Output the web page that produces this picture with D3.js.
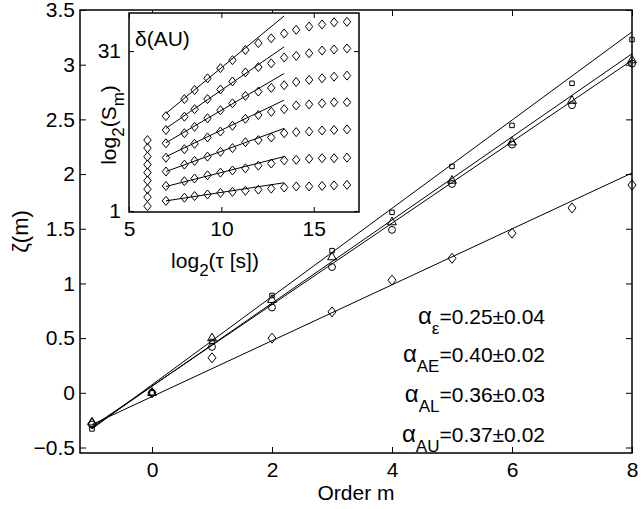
<!DOCTYPE html>
<html>
<head>
<meta charset="utf-8">
<script src="https://cdn.jsdelivr.net/npm/d3@7"></script>
<style>
  body { margin: 0; background: #fff; }
  text { font-family: "Liberation Sans", Arial, Helvetica, sans-serif; fill: #000; }
</style>
</head>
<body>
<svg id="chart" width="641" height="509"></svg>
<script>
// ---- main panel data ----
const orders = [-1, 0, 1, 2, 3, 4, 5, 6, 7, 8];
const zetaSquare   = [-0.33, 0, 0.47, 0.89, 1.30, 1.65, 2.07, 2.445, 2.83, 3.23];
const zetaTriangle = [-0.27, 0, 0.50, 0.85, 1.24, 1.56, 1.94, 2.29, 2.67, 3.04];
const zetaCircle   = [-0.29, 0, 0.42, 0.78, 1.15, 1.49, 1.91, 2.27, 2.63, 3.01];
const zetaDiamond  = [-0.28, 0, 0.32, 0.50, 0.74, 1.03, 1.23, 1.46, 1.69, 1.90];
// fitted lines, value at m = -1 and m = 8
const fitOrders   = [-1, 8];
const fitSquare   = [-0.33, 3.30];
const fitTriangle = [-0.32, 3.10];
const fitCircle   = [-0.31, 3.04];
const fitDiamond  = [-0.29, 2.01];
const xTicks = [0, 2, 4, 6, 8];
const yTicks = [-0.5, 0, 0.5, 1, 1.5, 2, 2.5, 3, 3.5];

// ---- inset data: log2(S_m) vs log2(tau) for delta(AU) ----
const insetTau = [7, 8, 8.55, 9.25, 9.95, 10.6, 11.3, 12.0, 12.7, 13.4, 14.05, 14.75, 15.45, 16.1, 16.8];
const insetRows = [
  [18.8, 22.0, 23.7, 25.9, 27.8, 29.3, 31.2, 32.5, 33.4, 34.3, 35.0, 35.6, 36.0, 36.4, 36.5],
  [16.2, 18.7, 20.1, 22.0, 23.8, 25.3, 27.0, 28.0, 28.7, 29.8, 30.1, 30.6, 31.1, 31.3, 31.5],
  [13.7, 15.6, 16.8, 18.4, 19.9, 21.2, 22.6, 23.4, 24.1, 24.6, 25.2, 25.6, 25.9, 26.2, 26.4],
  [11.0, 12.6, 13.6, 14.8, 15.9, 17.0, 18.3, 19.0, 19.6, 20.1, 20.8, 21.0, 21.2, 21.4, 21.4],
  [8.4, 9.7, 10.4, 11.2, 12.1, 12.8, 13.9, 14.3, 14.8, 15.6, 15.8, 15.9, 16.1, 16.2, 16.3],
  [5.7, 6.6, 7.1, 7.7, 8.2, 8.6, 9.0, 9.5, 9.9, 10.5, 10.6, 10.8, 10.9, 10.9, 11.0],
  [2.9, 3.5, 3.8, 4.1, 4.4, 4.6, 4.8, 5.0, 5.2, 5.4, 5.6, 5.6, 5.7, 5.8, 5.9]
];
const insetColumnTau = 6;
const insetColumn = [14.3, 12.8, 11.2, 9.7, 8.2, 6.7, 5.1, 3.6, 1.9];
// fit lines per row, from tau 7 to 13.4
const insetFitTau = [7, 13.4];
const insetFitStart = [19.3, 16.5, 13.8, 11.2, 8.4, 5.6, 2.9];
const insetFitEnd   = [37.6, 31.8, 26.8, 21.8, 16.5, 11.2, 6.3];
const insetXTicks = [5, 10, 15];
const insetYTicks = [1, 31];

// annotation text
const alphaLabels = [
  { sub: "ε",  value: "=0.25±0.04" },
  { sub: "AE", value: "=0.40±0.02" },
  { sub: "AL", value: "=0.36±0.03" },
  { sub: "AU", value: "=0.37±0.02" }
];

const FS = 21, SUB = 17;
const svg = d3.select("#chart");

// ------------------------------------------------------------
// main axes
// ------------------------------------------------------------
const plot = { left: 80, right: 632, top: 10, bottom: 453 };
const x = d3.scaleLinear().domain([-1.2, 8]).range([plot.left, plot.right]);
const y = d3.scaleLinear().domain([-0.55, 3.5]).range([plot.bottom, plot.top]);

const fmt = d => d3.format("")(d).replace("-", "\u2212");

svg.append("g")
  .attr("transform", `translate(0,${plot.bottom})`)
  .call(d3.axisBottom(x).tickValues(xTicks).tickSize(-6).tickPadding(9).tickFormat(fmt))
  .call(g => g.select(".domain").remove())
  .attr("font-size", FS);

svg.append("g")
  .attr("transform", `translate(0,${plot.top})`)
  .call(d3.axisTop(x).tickValues(xTicks).tickSize(-6).tickFormat(""))
  .call(g => g.select(".domain").remove());

svg.append("g")
  .attr("transform", `translate(${plot.left},0)`)
  .call(d3.axisLeft(y).tickValues(yTicks).tickSize(-6).tickPadding(5).tickFormat(fmt))
  .call(g => g.select(".domain").remove())
  .attr("font-size", FS);

svg.append("g")
  .attr("transform", `translate(${plot.right},0)`)
  .call(d3.axisRight(y).tickValues(yTicks).tickSize(-6).tickFormat(""))
  .call(g => g.select(".domain").remove());

svg.selectAll(".tick text").attr("font-family", '"Liberation Sans", Arial, sans-serif');

svg.append("rect")
  .attr("x", plot.left).attr("y", plot.top)
  .attr("width", plot.right - plot.left).attr("height", plot.bottom - plot.top)
  .attr("fill", "none").attr("stroke", "#000").attr("stroke-width", 1.5);

// fitted lines
const fits = [fitSquare, fitTriangle, fitCircle, fitDiamond];
svg.append("g").selectAll("line")
  .data(fits)
  .join("line")
  .attr("x1", x(fitOrders[0])).attr("x2", x(fitOrders[1]))
  .attr("y1", d => y(d[0])).attr("y2", d => y(d[1]))
  .attr("stroke", "#000").attr("stroke-width", 1);

// markers
const series = [
  { values: zetaSquare,   symbol: d3.symbolSquare,   size: 20 },
  { values: zetaTriangle, symbol: d3.symbolTriangle, size: 34 },
  { values: zetaCircle,   symbol: d3.symbolCircle,   size: 38 }
];
const markerG = svg.append("g");
series.forEach(s => {
  markerG.append("g").selectAll("path")
    .data(s.values)
    .join("path")
    .attr("transform", (d, i) => `translate(${x(orders[i])},${y(d)})`)
    .attr("d", d3.symbol().type(s.symbol).size(s.size)())
    .attr("fill", "none").attr("stroke", "#000").attr("stroke-width", 1);
});

// diamonds drawn as tall rhombus, as in the original
const diamond = (w, h) => `M0,${-h}L${w},0L0,${h}L${-w},0Z`;
markerG.append("g").selectAll("path")
  .data(zetaDiamond)
  .join("path")
  .attr("transform", (d, i) => `translate(${x(orders[i])},${y(d)})`)
  .attr("d", diamond(4, 5))
  .attr("fill", "none").attr("stroke", "#000").attr("stroke-width", 1);

// axis labels
svg.append("text")
  .attr("x", (plot.left + plot.right) / 2).attr("y", 500)
  .attr("text-anchor", "middle").attr("font-size", FS)
  .text("Order m");

svg.append("text")
  .attr("transform", `translate(28,${(plot.top + plot.bottom) / 2}) rotate(-90)`)
  .attr("text-anchor", "middle").attr("font-size", FS + 1)
  .text("ζ(m)");

// alpha annotations
const alphaBase = [324, 362, 402, 442];
alphaLabels.forEach((a, i) => {
  const t = svg.append("text")
    .attr("x", 545).attr("y", alphaBase[i])
    .attr("text-anchor", "end").attr("font-size", FS);
  t.append("tspan").attr("font-size", FS + 3).text("α");
  t.append("tspan").attr("dy", 10).attr("font-size", SUB).text(a.sub);
  t.append("tspan").attr("dy", -10).text(a.value);
});

// ------------------------------------------------------------
// inset
// ------------------------------------------------------------
const ins = { left: 129, right: 359, top: 13, bottom: 212 };
const ix = d3.scaleLinear().domain([5, 17.45]).range([ins.left, ins.right]);
const iy = d3.scaleLinear().domain([0.81, 38.15]).range([ins.bottom, ins.top]);

svg.append("rect")
  .attr("x", ins.left).attr("y", ins.top)
  .attr("width", ins.right - ins.left).attr("height", ins.bottom - ins.top)
  .attr("fill", "#fff");

const inset = svg.append("g");

inset.append("g")
  .attr("transform", `translate(0,${ins.bottom})`)
  .call(d3.axisBottom(ix).tickValues(insetXTicks).tickSize(-5).tickPadding(9))
  .call(g => g.select(".domain").remove())
  .attr("font-size", FS);
inset.append("g")
  .attr("transform", `translate(0,${ins.top})`)
  .call(d3.axisTop(ix).tickValues(insetXTicks).tickSize(-5).tickFormat(""))
  .call(g => g.select(".domain").remove());
inset.append("g")
  .attr("transform", `translate(${ins.left},0)`)
  .call(d3.axisLeft(iy).tickValues(insetYTicks).tickSize(-5).tickPadding(8))
  .call(g => g.select(".domain").remove())
  .attr("font-size", FS);
inset.append("g")
  .attr("transform", `translate(${ins.right},0)`)
  .call(d3.axisRight(iy).tickValues(insetYTicks).tickSize(-5).tickFormat(""))
  .call(g => g.select(".domain").remove());
inset.selectAll(".tick text").attr("font-family", '"Liberation Sans", Arial, sans-serif');

// fit lines of each row
inset.append("g").selectAll("line")
  .data(insetFitStart)
  .join("line")
  .attr("x1", ix(insetFitTau[0])).attr("x2", ix(insetFitTau[1]))
  .attr("y1", d => iy(d)).attr("y2", (d, i) => iy(insetFitEnd[i]))
  .attr("stroke", "#000").attr("stroke-width", 1);

// row diamonds
inset.append("g").selectAll("g")
  .data(insetRows)
  .join("g")
  .selectAll("path")
  .data(d => d)
  .join("path")
  .attr("transform", (d, i) => `translate(${ix(insetTau[i])},${iy(d)})`)
  .attr("d", diamond(3.7, 4.5))
  .attr("fill", "none").attr("stroke", "#000").attr("stroke-width", 1);

// stacked column at tau = 6
inset.append("g").selectAll("path")
  .data(insetColumn)
  .join("path")
  .attr("transform", d => `translate(${ix(insetColumnTau)},${iy(d)})`)
  .attr("d", diamond(3.7, 4.5))
  .attr("fill", "none").attr("stroke", "#000").attr("stroke-width", 1);

inset.append("rect")
  .attr("x", ins.left).attr("y", ins.top)
  .attr("width", ins.right - ins.left).attr("height", ins.bottom - ins.top)
  .attr("fill", "none").attr("stroke", "#000").attr("stroke-width", 1.5);

// inset labels
inset.append("text")
  .attr("x", 135).attr("y", 46).attr("font-size", FS)
  .text("δ(AU)");

const ixl = inset.append("text")
  .attr("x", 215).attr("y", 268)
  .attr("text-anchor", "middle").attr("font-size", FS);
ixl.append("tspan").text("log");
ixl.append("tspan").attr("dy", 8).attr("font-size", SUB).text("2");
ixl.append("tspan").attr("dy", -8).text("(τ [s])");

const iyl = inset.append("text")
  .attr("transform", `translate(116,125) rotate(-90)`)
  .attr("text-anchor", "middle").attr("font-size", FS);
iyl.append("tspan").text("log");
iyl.append("tspan").attr("dy", 8).attr("font-size", SUB).text("2");
iyl.append("tspan").attr("dy", -8).text("(S");
iyl.append("tspan").attr("dy", 8).attr("font-size", SUB).text("m");
iyl.append("tspan").attr("dy", -8).text(")");
</script>
</body>
</html>
